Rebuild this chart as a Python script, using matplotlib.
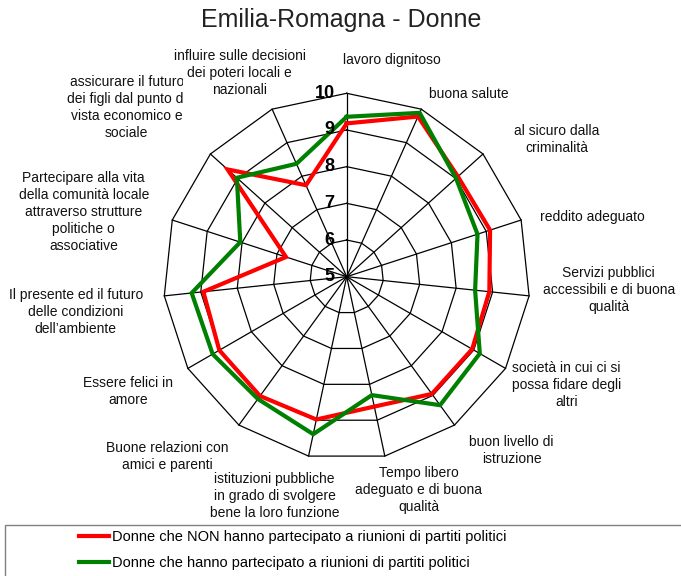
import numpy as np
import matplotlib
matplotlib.use("Agg")
import matplotlib.pyplot as plt
from matplotlib.patches import Rectangle
from matplotlib.transforms import Bbox

plt.rcParams['font.family'] = ['Liberation Sans', 'DejaVu Sans']

title = "Emilia-Romagna - Donne"
categories = [
    "lavoro dignitoso",
    "buona salute",
    "al sicuro dalla\ncriminalità",
    "reddito adeguato",
    "Servizi pubblici\naccessibili e di buona\nqualità",
    "società in cui ci si\npossa fidare degli\naltri",
    "buon livello di\nistruzione",
    "Tempo libero\nadeguato e di buona\nqualità",
    "istituzioni pubbliche\nin grado di svolgere\nbene la loro funzione",
    "Buone relazioni con\namici e parenti",
    "Essere felici in\namore",
    "Il presente ed il futuro\ndelle condizioni\ndell’ambiente",
    "Partecipare alla vita\ndella comunità locale\nattraverso strutture\npolitiche o\nassociative",
    "assicurare il futuro\ndei figli dal punto di\nvista economico e\nsociale",
    "influire sulle decisioni\ndei poteri locali e\nnazionali",
]
series_names = [
    "Donne che NON hanno partecipato a riunioni di partiti politici",
    "Donne che hanno partecipato a riunioni di partiti politici",
]
non_partecipato = [9.18, 9.78, 9.08, 9.11, 8.91, 8.95, 8.95, 8.62, 8.98, 9.02, 9.01, 8.93, 6.74, 9.37, 7.73]
partecipato = [9.36, 9.89, 9.01, 8.75, 8.52, 9.19, 9.33, 8.30, 9.39, 9.12, 9.22, 9.25, 8.05, 9.03, 8.37]
rticks = [5, 6, 7, 8, 9, 10]

# label placement (pixel offsets of label centres from the chart centre)
label_offsets = [
    (45, 217), (122, 183), (210, 137), (246, 60), (262, -13),
    (220, -108), (165, -174), (72, -213), (-72, -219), (-179, -180),
    (-219, -115), (-271, -35), (-263, 65), (-220, 169), (-107, 204),
]

W, H = 681, 576
fig = plt.figure(figsize=(W / 100, H / 100), dpi=100)
cx, cy, R = 346.7, 276.7, 183.4
ax = fig.add_axes([(cx - R) / W, (H - cy - R) / H, 2 * R / W, 2 * R / H], projection='polar')
ax.set_theta_zero_location('N')
ax.set_theta_direction(-1)
ax.set_ylim(rticks[0], rticks[-1])
ax.grid(False)
ax.spines['polar'].set_visible(False)
ax.set_xticks([])
ax.set_yticks([])
ax.patch.set_alpha(0)

n = len(categories)
theta = np.arange(n) * 2 * np.pi / n
theta_c = np.concatenate([theta, theta[:1]])

for r in rticks[1:]:
    ax.plot(theta_c, [r] * (n + 1), color='black', lw=0.9, zorder=1, clip_on=False)
for t in theta:
    ax.plot([t, t], [rticks[0], rticks[-1]], color='black', lw=0.9, zorder=1, clip_on=False)

colors = ['#ff0000', '#008000']
handles = []
for vals, col, name in zip([non_partecipato, partecipato], colors, series_names):
    v = np.array(vals + vals[:1])
    h, = ax.plot(theta_c, v, color=col, lw=3.0, zorder=3, solid_joinstyle='miter', label=name, clip_on=False)
    handles.append(h)

for r in rticks:
    ax.annotate(str(r), xy=(0, r), xytext=(-12, 0), textcoords='offset pixels',
                ha='right', va='center', fontsize=13, fontweight='bold', zorder=4)

for i, (lab, (dx, dy)) in enumerate(zip(categories, label_offsets)):
    t = ax.annotate(lab, xy=(0.5, 0.5), xycoords='axes fraction', xytext=(dx, dy),
                    textcoords='offset pixels', ha='center', va='center',
                    fontsize=10, linespacing=1.27, annotation_clip=False, color='#111111')
    if i == 13:
        t.set_clip_box(Bbox.from_extents(0, 0, 183, H))
        t.set_clip_on(True)

fig.text(341 / W, 1 - 20 / H, title, ha='center', va='center', fontsize=18, color='#222222')

fig.patches.append(Rectangle((5 / W, -0.05), 1.0, 0.05 + (H - 525) / H, transform=fig.transFigure,
                             fill=False, edgecolor='#808080', lw=1.0))
fig.legend(handles=handles, labels=series_names, loc='upper left',
           bbox_to_anchor=(79 / W, 1 - 530 / H), frameon=False,
           prop={'size': 10.5},
           handlelength=2.05, handletextpad=0.2, labelspacing=0.85, borderpad=0, borderaxespad=0)

fig.savefig('out.png', dpi=100)
